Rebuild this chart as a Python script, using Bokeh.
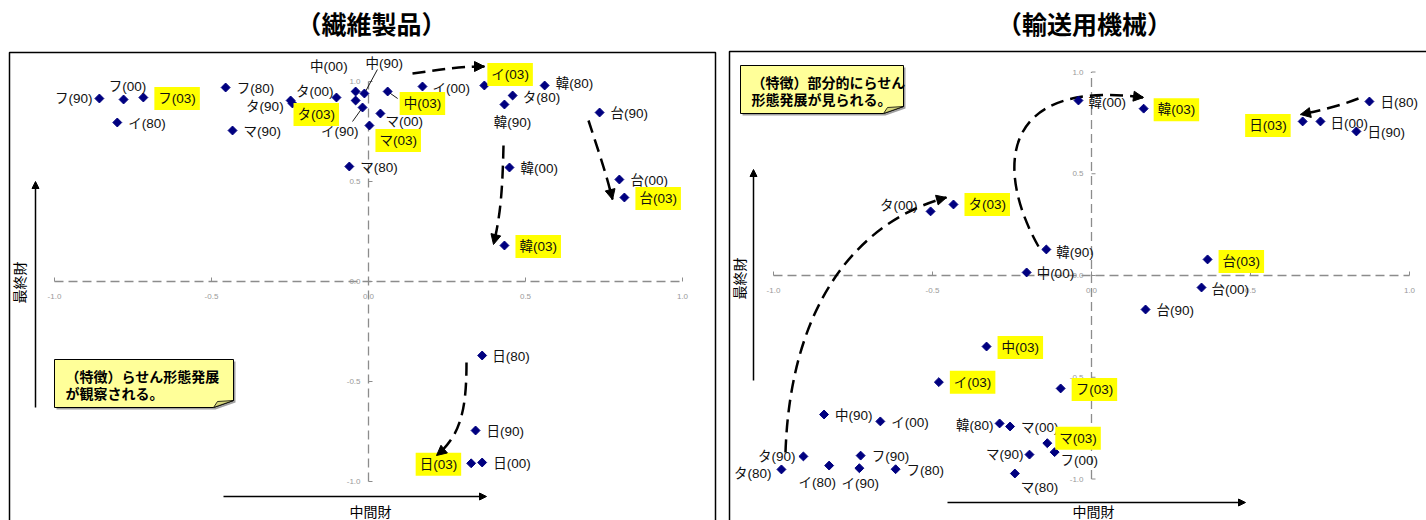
import numpy as np
from bokeh.plotting import figure
from bokeh.layouts import row
from bokeh.models import ColumnDataSource, Range1d, Arrow, NormalHead
from bokeh.core.properties import value, field
from bokeh.embed import file_html
from bokeh.resources import INLINE

FONT = "Noto Sans CJK JP"
LABEL_FONT = "'Liberation Sans', 'Noto Sans CJK JP'"

# ---------------- data ----------------
TICKS = [-1.0, -0.5, 0.0, 0.5, 1.0]
TICK_LABELS = ["-1.0", "-0.5", "0.0", "0.5", "1.0"]

TEX_TITLE = "（繊維製品）"
TEX_LABELS = ["フ(80)", "フ(90)", "フ(00)", "フ(03)", "イ(80)", "イ(90)", "イ(00)", "イ(03)",
              "タ(80)", "タ(90)", "タ(00)", "タ(03)", "マ(80)", "マ(90)", "マ(00)", "マ(03)",
              "中(80)", "中(90)", "中(00)", "中(03)", "韓(80)", "韓(90)", "韓(00)", "韓(03)",
              "台(90)", "台(00)", "台(03)", "日(80)", "日(90)", "日(00)", "日(03)"]
TEX_X = [-0.455, -0.857, -0.780, -0.717, -0.800, -0.019, 0.172, 0.369,
         0.459, -0.248, -0.102, -0.242, -0.061, -0.433, 0.038, 0.003,
         -0.041, -0.013, -0.041, 0.061, 0.561, 0.433, 0.449, 0.433,
         0.736, 0.799, 0.815, 0.362, 0.341, 0.362, 0.327]
TEX_Y = [0.970, 0.915, 0.910, 0.920, 0.795, 0.870, 0.975, 0.980,
         0.930, 0.905, 0.920, 0.890, 0.575, 0.755, 0.840, 0.780,
         0.905, 0.940, 0.950, 0.950, 0.980, 0.885, 0.570, 0.180,
         0.845, 0.510, 0.420, -0.370, -0.745, -0.905, -0.909]
TEX_UNLABELED = ["中(80)"]
TEX_NOTE = ["（特徴）らせん形態発展", "が観察される。"]

TRN_TITLE = "（輸送用機械）"
TRN_LABELS = ["韓(00)", "韓(03)", "日(80)", "日(03)", "日(00)", "日(90)", "タ(00)", "タ(03)",
              "韓(90)", "中(00)", "中(03)", "台(03)", "台(00)", "台(90)", "イ(03)", "フ(03)",
              "中(90)", "イ(00)", "韓(80)", "マ(00)", "マ(03)", "フ(00)", "マ(90)", "マ(80)",
              "タ(90)", "タ(80)", "イ(80)", "フ(90)", "イ(90)", "フ(80)"]
TRN_X = [-0.041, 0.164, 0.874, 0.664, 0.720, 0.833, -0.506, -0.434,
         -0.142, -0.204, -0.330, 0.365, 0.346, 0.170, -0.480, -0.097,
         -0.841, -0.664, -0.289, -0.256, -0.139, -0.116, -0.195, -0.241,
         -0.906, -0.975, -0.825, -0.726, -0.730, -0.616]
TRN_Y = [0.860, 0.820, 0.855, 0.757, 0.757, 0.708, 0.315, 0.349,
         0.128, 0.015, -0.349, 0.079, -0.059, -0.167, -0.524, -0.555,
         -0.683, -0.717, -0.727, -0.742, -0.824, -0.868, -0.880, -0.973,
         -0.889, -0.953, -0.934, -0.885, -0.947, -0.952]
TRN_UNLABELED = []
TRN_NOTE = ["（特徴）部分的にらせん", "形態発展が見られる。"]

X_AXIS_NAME = "中間財"
Y_AXIS_NAME = "最終財"

# ---------------- layout / styling (pixel offsets of labels) ----------------
TEX_OFFSETS = {
    "フ(90)": (-7, 0, "right"), "フ(00)": (4, -13, "center"), "タ(90)": (-7, 6, "right"),
    "タ(03)": (1, 11, "left"), "タ(00)": (-3, -6, "right"), "中(00)": (-8, -25, "right"),
    "中(90)": (1, -30, "left"), "イ(90)": (-4, 24, "right"), "中(03)": (12, 12, "left"),
    "マ(00)": (5, 8, "left"), "マ(03)": (6, 15, "left"), "イ(00)": (10, 2, "left"),
    "イ(03)": (3, -11, "left"), "タ(80)": (10, 2, "left"), "韓(90)": (8, 18, "center"),
    "韓(80)": (11, -2, "left"), "日(80)": (10, 1, "left"), "日(03)": (-10, 1, "right"),
}
TRN_OFFSETS = {
    "韓(00)": (10, 2, "left"), "韓(03)": (10, 1, "left"), "日(03)": (-12, 4, "right"),
    "日(00)": (10, 2, "left"), "タ(00)": (-13, -6, "right"), "タ(03)": (11, 0, "left"),
    "韓(90)": (10, 3, "left"), "中(00)": (10, 1, "left"), "台(03)": (11, 2, "left"),
    "台(00)": (10, 2, "left"), "イ(03)": (11, 0, "left"), "韓(80)": (-6, 2, "right"),
    "マ(03)": (8, -5, "left"), "フ(00)": (6, 8, "left"), "マ(90)": (-6, 0, "right"),
    "マ(80)": (6, 14, "left"), "タ(90)": (-8, 0, "right"), "タ(80)": (-10, 4, "right"),
    "イ(80)": (-12, 17, "center"), "イ(90)": (1, 15, "center"),
}
DEFAULT_OFFSET = (11, 1, "left")

PAGE_TOP, HEIGHT = 0, 520


def make_panel(cfg, title, labels, xs, ys, unlabeled, offsets, note, leaders, arrows):
    left, width, ox, oy, sx, sy = cfg["left"], cfg["width"], cfg["ox"], cfg["oy"], cfg["sx"], cfg["sy"]

    def dx(px):
        return (px - ox) / sx

    def dy(py):
        return (oy - py) / sy

    p = figure(width=width, height=HEIGHT,
               x_range=Range1d(dx(left), dx(left + width)),
               y_range=Range1d(dy(PAGE_TOP + HEIGHT), dy(PAGE_TOP)),
               x_axis_type=None, y_axis_type=None, toolbar_location=None,
               output_backend="svg", min_border=0, outline_line_color=None)
    p.background_fill_color = "white"
    p.border_fill_color = "white"

    # frame box
    fb = cfg["frame"]
    p.line([dx(v[0]) for v in fb], [dy(v[1]) for v in fb], line_color="black", line_width=1.5)

    # title
    p.text(x=[dx(cfg["title_pos"][0])], y=[dy(cfg["title_pos"][1])], text=[title],
           text_align="center", text_baseline="middle", text_font=value(FONT),
           text_font_style="bold", text_font_size="25px", text_color="black")

    # crossing dashed axes
    tmin, tmax = min(TICKS), max(TICKS)
    p.segment(x0=[tmin], y0=[0], x1=[tmax], y1=[0], line_color="#8c8c8c", line_width=1.3, line_dash="9 5")
    p.segment(x0=[0], y0=[tmin], x1=[0], y1=[tmax], line_color="#8c8c8c", line_width=1.3, line_dash="9 5")
    tk = np.array(TICKS)
    p.segment(x0=tk, y0=np.zeros_like(tk), x1=tk, y1=np.full_like(tk, 4 / sy), line_color="#8c8c8c", line_width=1)
    p.segment(x0=np.zeros_like(tk), y0=tk, x1=np.full_like(tk, 4 / sx), y1=tk, line_color="#8c8c8c", line_width=1)
    p.text(x=TICKS, y=[0] * len(TICKS), text=TICK_LABELS, y_offset=15, text_align="center",
           text_baseline="middle", text_font=value("Liberation Sans"), text_font_size="8px", text_color="#9a9a9a")
    p.text(x=[0] * len(TICKS), y=TICKS, text=TICK_LABELS, x_offset=-8, text_align="right",
           text_baseline="middle", text_font=value("Liberation Sans"), text_font_size="8px", text_color="#9a9a9a")

    # callout note
    nx0, ny0, nx1, ny1 = cfg["note_box"]
    fold = 20
    shadow = 2
    p.patch([dx(nx0 + shadow), dx(nx1 + shadow), dx(nx1 + shadow), dx(nx1 - fold + shadow), dx(nx0 + shadow)],
            [dy(ny0 + shadow), dy(ny0 + shadow), dy(ny1 - 7 + shadow), dy(ny1 + shadow), dy(ny1 + shadow)],
            fill_color="#a0a0a0", line_color=None)
    p.patch([dx(nx0), dx(nx1), dx(nx1), dx(nx1 - fold), dx(nx0)],
            [dy(ny0), dy(ny0), dy(ny1 - 7), dy(ny1), dy(ny1)],
            fill_color="#ffff99", line_color="black", line_width=1)
    p.patch([dx(nx1), dx(nx1 - fold), dx(nx1 - fold + 4)],
            [dy(ny1 - 7), dy(ny1), dy(ny1 - 6)],
            fill_color="#d6d67a", line_color="black", line_width=0.8)
    for i, line in enumerate(note):
        p.text(x=[dx(nx0 + 11)], y=[dy(ny0 + 16 + 17 * i)], text=[line], text_align="left",
               text_baseline="middle", text_font=value(FONT), text_font_style="bold",
               text_font_size="14px", text_color="black")

    # axis direction arrows and names
    (vx, vy0, vy1) = cfg["v_arrow"]
    p.add_layout(Arrow(x_start=dx(vx), y_start=dy(vy0), x_end=dx(vx), y_end=dy(vy1),
                       line_color="black", line_width=1.5,
                       end=NormalHead(size=7, fill_color="black", line_color="black")))
    (hy, hx0, hx1) = cfg["h_arrow"]
    p.add_layout(Arrow(x_start=dx(hx0), y_start=dy(hy), x_end=dx(hx1), y_end=dy(hy),
                       line_color="black", line_width=1.5,
                       end=NormalHead(size=7, fill_color="black", line_color="black")))
    p.text(x=[dx(cfg["yname"][0])], y=[dy(cfg["yname"][1])], text=[Y_AXIS_NAME], angle=np.pi / 2,
           text_align="center", text_baseline="middle", text_font=value(FONT), text_font_size="14px",
           text_color="black")
    p.text(x=[dx(cfg["xname"][0])], y=[dy(cfg["xname"][1])], text=[X_AXIS_NAME],
           text_align="center", text_baseline="middle", text_font=value(FONT), text_font_size="14px",
           text_color="black")

    # dashed movement arrows (cubic curves)
    for (a, b, c, d) in arrows:
        p.bezier(x0=[dx(a[0])], y0=[dy(a[1])], cx0=[dx(b[0])], cy0=[dy(b[1])],
                 cx1=[dx(c[0])], cy1=[dy(c[1])], x1=[dx(d[0])], y1=[dy(d[1])],
                 line_color="black", line_width=2.5, line_dash="13 7")
        p.add_layout(Arrow(x_start=dx(c[0]), y_start=dy(c[1]), x_end=dx(d[0]), y_end=dy(d[1]),
                           line_alpha=0, line_width=0.1,
                           end=NormalHead(size=10, fill_color="black", line_color="black")))

    # leader lines
    lab_idx = {l: i for i, l in enumerate(labels)}
    for (lab, ldx, ldy) in leaders:
        i = lab_idx[lab]
        p.segment(x0=[xs[i]], y0=[ys[i]], x1=[xs[i] + ldx / sx], y1=[ys[i] - ldy / sy],
                  line_color="black", line_width=0.9)

    # points
    src = ColumnDataSource(dict(x=xs, y=ys, label=labels))
    p.scatter("x", "y", source=src, marker="square", angle=np.pi / 4, size=6.3,
              fill_color="#000080", line_color="#000080")

    # labels
    norm = dict(x=[], y=[], text=[], dx=[], dy=[], align=[])
    high = dict(x=[], y=[], text=[], dx=[], dy=[], align=[])
    for lab, x, y in zip(labels, xs, ys):
        if lab in unlabeled:
            continue
        odx, ody, al = offsets.get(lab, DEFAULT_OFFSET)
        tgt = high if lab.endswith("(03)") else norm
        tgt["x"].append(x); tgt["y"].append(y); tgt["text"].append(lab)
        tgt["dx"].append(odx); tgt["dy"].append(ody); tgt["align"].append(al)
    p.text(x="x", y="y", text="text", x_offset="dx", y_offset="dy", text_align=field("align"),
           text_baseline="middle", source=ColumnDataSource(norm), text_font=value(LABEL_FONT),
           text_font_size="13.5px", text_color="#111111")
    p.text(x="x", y="y", text="text", x_offset="dx", y_offset="dy", text_align=field("align"),
           text_baseline="middle", source=ColumnDataSource(high), text_font=value(LABEL_FONT),
           text_font_size="13.5px", text_color="#111111",
           background_fill_color="#ffff00", padding=4)
    return p


LEFT_CFG = dict(left=0, width=722, ox=368, oy=281, sx=314, sy=200,
                frame=[(9, 560), (9, 52), (715, 52), (715, 560)],
                title_pos=(371, 22), note_box=(54, 359, 233, 407),
                v_arrow=(35, 407, 181), h_arrow=(496, 223, 486),
                yname=(18, 282), xname=(370, 510))
RIGHT_CFG = dict(left=722, width=704, ox=1091, oy=275, sx=318, sy=203.5,
                 frame=[(729, 560), (729, 51), (1460, 51)],
                 title_pos=(1084, 22), note_box=(740, 65, 903, 113),
                 v_arrow=(753, 380, 169), h_arrow=(502, 947, 1245),
                 yname=(738, 278), xname=(1093, 510))

TEX_LEADERS = [("中(90)", 13, -24), ("イ(90)", -10, 14), ("中(03)", 10, 7)]
TEX_ARROWS = [((412, 73), (435, 70), (455, 66), (484, 66)),
              ((503, 145), (502, 190), (500, 215), (493, 244)),
              ((588, 120), (596, 145), (605, 170), (612, 199)),
              ((466, 362), (466, 410), (460, 435), (436, 455))]
TRN_ARROWS = [((785, 452), (790, 300), (860, 220), (946, 197)),
              ((1038, 246), (995, 170), (998, 78), (1143, 97)),
              ((1358, 98), (1340, 105), (1320, 110), (1300, 114))]

p1 = make_panel(LEFT_CFG, TEX_TITLE, TEX_LABELS, TEX_X, TEX_Y, TEX_UNLABELED, TEX_OFFSETS,
                TEX_NOTE, TEX_LEADERS, TEX_ARROWS)
p2 = make_panel(RIGHT_CFG, TRN_TITLE, TRN_LABELS, TRN_X, TRN_Y, TRN_UNLABELED, TRN_OFFSETS,
                TRN_NOTE, [], TRN_ARROWS)

layout = row(p1, p2, spacing=0)
open("out.html", "w").write(file_html(layout, INLINE))
